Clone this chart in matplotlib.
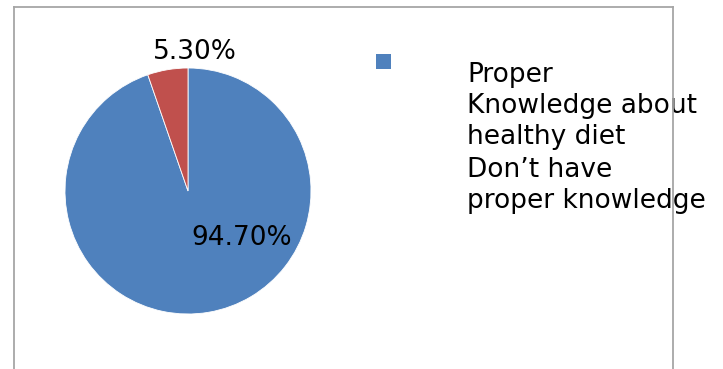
import matplotlib
matplotlib.use("Agg")
import matplotlib.pyplot as plt
from matplotlib.patches import Rectangle
from matplotlib.lines import Line2D

# Survey shares (percent)
categories = ["Proper\nKnowledge about\nhealthy diet", "Don\u2019t have\nproper knowledge"]
values = [94.70, 5.30]
colors = ["#4F81BD", "#C0504D"]

W, H = 723, 369
fig = plt.figure(figsize=(W / 100, H / 100), dpi=100)
fig.patch.set_facecolor("white")

# Pie axes: centre (188, 191) px, radius 123 px
cx, cy, r = 188, 191, 123
ax = fig.add_axes([(cx - r) / W, (H - cy - r) / H, 2 * r / W, 2 * r / H])
ax.pie(values, colors=colors, startangle=90, counterclock=False,
       wedgeprops=dict(edgecolor="white", linewidth=0.6))
ax.set_xlim(-1, 1)
ax.set_ylim(-1, 1)
ax.set_aspect("equal")
ax.axis("off")

# Percentage labels (data coordinates relative to the pie)
label_pos = [(0.437, -0.38), (0.057, 1.13)]
for v, (lx, ly) in zip(values, label_pos):
    ax.text(lx, ly, f"{v:.2f}%", ha="center", va="center", fontsize=19,
            color="black", clip_on=False)

# Chart-area frame (left, top, right edges)
frame_c = "#A6A6A6"
x0, x1, ytop = 14 / W, 672.5 / W, 1 - 7 / H
for xs, ys in [([x0, x0], [0, ytop]), ([x0, x1], [ytop, ytop]), ([x1, x1], [0, ytop])]:
    fig.add_artist(Line2D(xs, ys, transform=fig.transFigure, color=frame_c,
                          linewidth=1.3, zorder=5))

# Legend: marker square and wrapped labels
fig.add_artist(Rectangle((376 / W, 1 - 68.5 / H), 14.5 / W, 14.5 / H,
                         transform=fig.transFigure, facecolor=colors[0],
                         edgecolor="none"))
line_px = 31.5
top_px = 62.5
for text in categories:
    fig.text(467 / W, 1 - top_px / H, text, ha="left", va="top", fontsize=19,
             color="black", linespacing=1.24, zorder=3)
    top_px += line_px * (text.count("\n") + 1)

fig.savefig("out.png", dpi=100, facecolor="white")
